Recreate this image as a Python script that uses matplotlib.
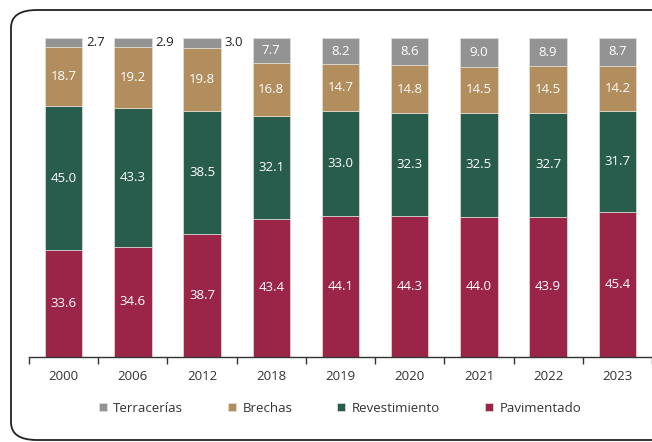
import numpy as np
import matplotlib.pyplot as plt
from matplotlib.patches import FancyBboxPatch

years = ['2000', '2006', '2012', '2018', '2019', '2020', '2021', '2022', '2023']
pavimentado = [33.6, 34.6, 38.7, 43.4, 44.1, 44.3, 44.0, 43.9, 45.4]
revestimiento = [45.0, 43.3, 38.5, 32.1, 33.0, 32.3, 32.5, 32.7, 31.7]
brechas = [18.7, 19.2, 19.8, 16.8, 14.7, 14.8, 14.5, 14.5, 14.2]
terracerias = [2.7, 2.9, 3.0, 7.7, 8.2, 8.6, 9.0, 8.9, 8.7]

colors = {'Pavimentado': '#9B2548', 'Revestimiento': '#285C4D',
          'Brechas': '#B28D5D', 'Terracerías': '#939393'}

plt.rcParams['font.family'] = ['Open Sans', 'DejaVu Sans']

fig = plt.figure(figsize=(6.52, 4.42), dpi=100)

# rounded frame around the chart
frame = FancyBboxPatch((11 / 652, 2 / 442), 700 / 652, 430 / 442,
                       boxstyle='round,pad=0,rounding_size=0.04',
                       transform=fig.transFigure, facecolor='none',
                       edgecolor='#222222', linewidth=1.3, zorder=-1)
fig.patches.append(frame)

ax = fig.add_axes([29 / 652, 1 - 357 / 442, 623 / 652, 319 / 442])
ax.set_facecolor('none')

x = np.arange(len(years))
w = 0.54
series = [('Pavimentado', pavimentado), ('Revestimiento', revestimiento),
          ('Brechas', brechas), ('Terracerías', terracerias)]
bottom = np.zeros(len(years))
for name, vals in series:
    vals = np.array(vals)
    ax.bar(x, vals, w, bottom=bottom, color=colors[name],
           edgecolor='#e6e0d8', linewidth=0.5, label=name)
    for i, v in enumerate(vals):
        yc = bottom[i] + v / 2
        if name == 'Terracerías' and v < 5:
            ax.text(x[i] + w / 2 + 0.06, yc, f'{v:.1f}', ha='left', va='center',
                    fontsize=9.5, color='#222222')
        else:
            ax.text(x[i], yc, f'{v:.1f}', ha='center', va='center',
                    fontsize=9.5, color='white')
    bottom += vals

ax.set_xlim(-0.5, len(years) - 0.5)
ax.set_ylim(0, 100)
ax.set_yticks([])
for s in ['top', 'right', 'left']:
    ax.spines[s].set_visible(False)
ax.spines['bottom'].set_color('#333333')
ax.spines['bottom'].set_linewidth(1)

ax.set_xticks(x)
ax.set_xticklabels(years, fontsize=9.5, color='#333333')
ax.tick_params(axis='x', length=0, pad=9)
ax.set_xticks(np.arange(-0.5, len(years), 1), minor=True)
ax.tick_params(axis='x', which='minor', length=5, color='#333333', width=1)

handles, labels = ax.get_legend_handles_labels()
order = [3, 2, 1, 0]
leg = fig.legend([handles[i] for i in order], [labels[i] for i in order],
                 loc='center', bbox_to_anchor=(340 / 652, 1 - 408 / 442),
                 ncol=4, frameon=False, fontsize=9.5, handlelength=0.6,
                 handleheight=0.6, columnspacing=3.4, handletextpad=0.5)
for t in leg.get_texts():
    t.set_color('#333333')

fig.savefig('out.png', dpi=100)
